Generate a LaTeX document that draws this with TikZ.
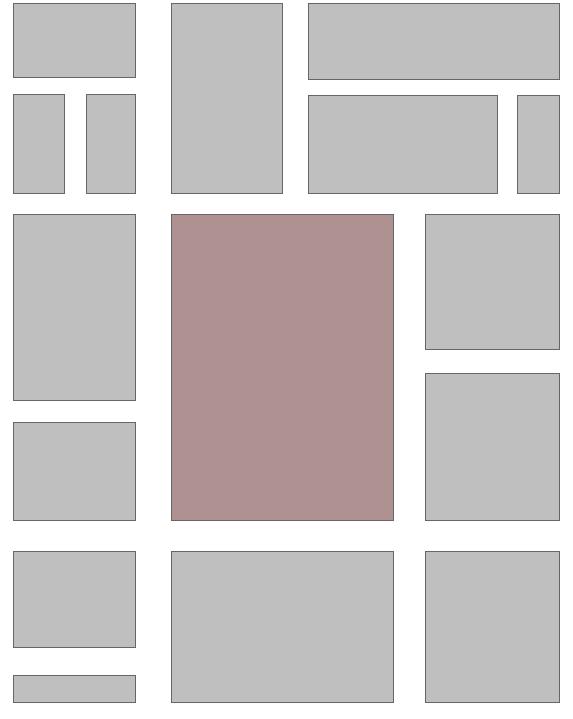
\documentclass[tikz,border=0pt]{standalone}
\begin{document}
\begin{tikzpicture}[x=1pt,y=-1pt,
  box/.style={draw=black!60, line width=0.8pt, fill=black!25, rectangle, inner sep=0pt, outer sep=0pt, anchor=north west},
  hot/.style={box, fill={rgb,255:red,176;green,145;blue,145}}]
\useasboundingbox (0,0) rectangle (572,719);
\node[box, minimum width=122pt, minimum height=74pt] (a) at (13,3) {};
\node[box, minimum width=51pt, minimum height=99pt] (b) at (13,94) {};
\node[box, minimum width=49pt, minimum height=99pt] (c) at (86,94) {};
\node[box, minimum width=111pt, minimum height=190pt] (d) at (171,3) {};
\node[box, minimum width=251pt, minimum height=76pt] (e) at (308,3) {};
\node[box, minimum width=189pt, minimum height=98pt] (f) at (308,95) {};
\node[box, minimum width=42pt, minimum height=98pt] (g) at (517,95) {};
\node[box, minimum width=122pt, minimum height=186pt] (h) at (13,214) {};
\node[box, minimum width=122pt, minimum height=98pt] (i) at (13,422) {};
\node[hot, minimum width=222pt, minimum height=306pt] (p) at (171,214) {};
\node[box, minimum width=134pt, minimum height=135pt] (j) at (425,214) {};
\node[box, minimum width=134pt, minimum height=147pt] (k) at (425,373) {};
\node[box, minimum width=122pt, minimum height=96pt] (l) at (13,551) {};
\node[box, minimum width=122pt, minimum height=27pt] (m) at (13,675) {};
\node[box, minimum width=222pt, minimum height=151pt] (n) at (171,551) {};
\node[box, minimum width=134pt, minimum height=151pt] (o) at (425,551) {};
\end{tikzpicture}
\end{document}
